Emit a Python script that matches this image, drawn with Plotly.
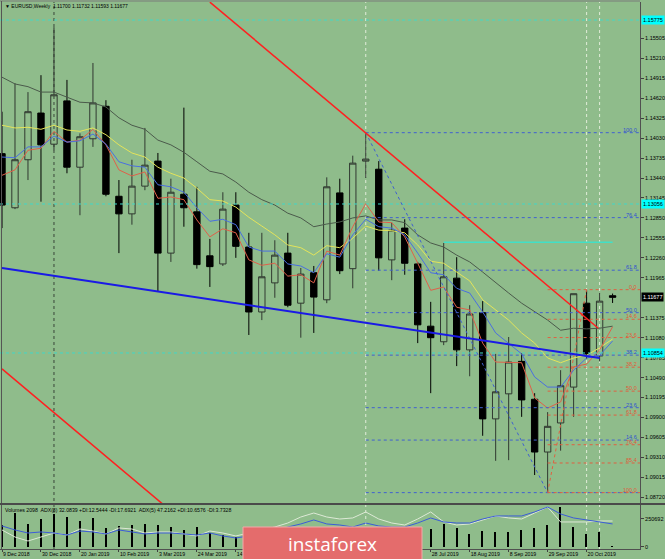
import pandas as pd
import plotly.graph_objects as go

# ---------------- data ----------------
first_week = "2018-12-09"
dates = pd.date_range(first_week, periods=48, freq="7D")

open_ = [1.1380, 1.1300, 1.1371, 1.1440, 1.1394, 1.1458, 1.1360, 1.1402, 1.1450, 1.1317,
         1.1291, 1.1332, 1.1369, 1.1233, 1.1320, 1.1294, 1.1229, 1.1217, 1.1304, 1.1242,
         1.1146, 1.1189, 1.1233, 1.1159, 1.1204, 1.1164, 1.1322, 1.1210, 1.1369, 1.1357,
         1.1223, 1.1270, 1.1217, 1.1125, 1.1102, 1.1196, 1.1090, 1.1145, 1.0988, 1.1025,
         1.1073, 1.1017, 1.0939, 1.0982, 1.1035, 1.1159, 1.1081, 1.11700]
high = [1.1442, 1.1484, 1.1471, 1.1496, 1.1567, 1.1489, 1.1410, 1.1514, 1.1459, 1.1341,
        1.1371, 1.1418, 1.1381, 1.1343, 1.1448, 1.1331, 1.1254, 1.1323, 1.1323, 1.1263,
        1.1263, 1.1252, 1.1263, 1.1211, 1.1214, 1.1345, 1.1343, 1.1377, 1.1411, 1.1369,
        1.1278, 1.1283, 1.1220, 1.1161, 1.1248, 1.1227, 1.1156, 1.1162, 1.1084, 1.1109,
        1.1085, 1.1026, 1.0998, 1.1060, 1.1173, 1.1179, 1.1174, 1.11732]
low = [1.1270, 1.1298, 1.1341, 1.1309, 1.1385, 1.1351, 1.1289, 1.1390, 1.1317, 1.1233,
       1.1275, 1.1326, 1.1176, 1.1220, 1.1272, 1.1210, 1.1183, 1.1214, 1.1226, 1.1112,
       1.1134, 1.1167, 1.1153, 1.1108, 1.1115, 1.1159, 1.1202, 1.1181, 1.1344, 1.1207,
       1.1193, 1.1201, 1.1100, 1.1026, 1.1097, 1.1066, 1.1051, 1.0963, 1.0926, 1.0927,
       1.0991, 1.0905, 1.0879, 1.0941, 1.0991, 1.1077, 1.1073, 1.11593]
close = [1.1304, 1.1371, 1.1442, 1.1393, 1.1467, 1.1360, 1.1405, 1.1455, 1.1320, 1.1291,
         1.1332, 1.1363, 1.1233, 1.1323, 1.1300, 1.1216, 1.1213, 1.1298, 1.1243, 1.1146,
         1.1198, 1.1230, 1.1156, 1.1202, 1.1168, 1.1331, 1.1207, 1.1366, 1.1372, 1.1226,
         1.1267, 1.1218, 1.1127, 1.1108, 1.1198, 1.1090, 1.1143, 1.0988, 1.1028, 1.1072,
         1.1016, 1.0939, 1.0977, 1.1037, 1.1173, 1.1084, 1.1162, 1.11677]

ma_grey = [1.1493, 1.1483, 1.1479, 1.1471, 1.1471, 1.1464, 1.1456, 1.1455, 1.1449, 1.1433,
           1.1422, 1.1416, 1.1400, 1.1393, 1.1382, 1.1368, 1.1354, 1.1350, 1.1338, 1.1323,
           1.1312, 1.1304, 1.1292, 1.1285, 1.1272, 1.1276, 1.1279, 1.1285, 1.1288, 1.1282,
           1.1282, 1.1278, 1.1260, 1.1248, 1.1242, 1.1230, 1.1220, 1.1205, 1.1189, 1.1174,
           1.1159, 1.1146, 1.1134, 1.1119, 1.1122, 1.1121, 1.1122, 1.1125]
ma_yellow = [1.1422, 1.1418, 1.1419, 1.1416, 1.1422, 1.1415, 1.1413, 1.1418, 1.1408, 1.1393,
             1.1381, 1.1375, 1.1360, 1.1351, 1.1344, 1.1329, 1.1312, 1.1310, 1.1301, 1.1286,
             1.1273, 1.1260, 1.1245, 1.1241, 1.1230, 1.1244, 1.1241, 1.1255, 1.1273, 1.1267,
             1.1266, 1.1263, 1.1245, 1.1221, 1.1218, 1.1205, 1.1192, 1.1164, 1.1149, 1.1134,
             1.1115, 1.1100, 1.1078, 1.1071, 1.1078, 1.1082, 1.1093, 1.1106]
ma_red = [1.1348, 1.1356, 1.1385, 1.1388, 1.1413, 1.1397, 1.1400, 1.1416, 1.1393, 1.1356,
          1.1347, 1.1353, 1.1314, 1.1316, 1.1312, 1.1282, 1.1257, 1.1269, 1.1263, 1.1223,
          1.1215, 1.1218, 1.1199, 1.1201, 1.1189, 1.1236, 1.1230, 1.1272, 1.1306, 1.1279,
          1.1278, 1.1257, 1.1218, 1.1178, 1.1183, 1.1153, 1.1149, 1.1100, 1.1072, 1.1072,
          1.1071, 1.1019, 1.1004, 1.1013, 1.1065, 1.1069, 1.1090, 1.1124]
ma_blue = [1.1375, 1.1374, 1.1390, 1.1390, 1.1406, 1.1397, 1.1399, 1.1409, 1.1394, 1.1368,
           1.1362, 1.1360, 1.1334, 1.1331, 1.1323, 1.1300, 1.1280, 1.1283, 1.1275, 1.1242,
           1.1236, 1.1236, 1.1217, 1.1214, 1.1204, 1.1232, 1.1227, 1.1260, 1.1283, 1.1272,
           1.1270, 1.1260, 1.1233, 1.1204, 1.1201, 1.1181, 1.1174, 1.1146, 1.1115, 1.1100,
           1.1084, 1.1050, 1.1035, 1.1035, 1.1060, 1.1078, 1.1082, 1.1103]

volume = [197000, 304000, 206000, 251000, 295000, 269000, 233000, 260000, 170000, 188000,
          197000, 206000, 197000, 179000, 152000, 179000, 125000, 107000, 90000, 150000,
          135000, 120000, 160000, 140000, 130000, 175000, 150000, 165000, 170000, 145000,
          130000, 140000, 150000, 161000, 206000, 170000, 116000, 143000, 134000, 134000,
          152000, 170000, 197000, 358000, 179000, 116000, 134000, 2098]
adx_blue = [26.3, 21.3, 17.5, 18.8, 17.5, 15.0, 20.0, 18.8, 16.3, 21.3,
            18.8, 16.3, 17.5, 17.5, 16.3, 15.0, 17.5, 13.8, 11.3, 13.8,
            16.3, 20.0, 25.0, 28.8, 33.8, 28.8, 27.5, 25.0, 30.0, 26.3,
            25.0, 25.0, 30.0, 36.3, 31.3, 30.0, 30.0, 35.0, 38.8, 38.8,
            38.8, 43.8, 50.0, 41.3, 36.3, 33.8, 31.3, 28.8]
adx_light = [21.3, 12.5, 7.5, 12.5, 17.5, 15.0, 22.5, 20.0, 16.3, 23.8,
             22.5, 17.5, 18.8, 18.8, 16.3, 13.8, 20.0, 17.5, 13.8, 17.5,
             21.3, 25.0, 30.0, 37.5, 42.5, 37.5, 35.0, 36.3, 43.8, 35.0,
             30.0, 27.5, 35.0, 43.8, 31.3, 27.5, 28.8, 33.8, 38.8, 36.3,
             35.0, 42.5, 50.0, 31.3, 31.3, 31.3, 32.5, 32.5]

price_ticks = [1.08720, 1.09015, 1.09310, 1.09605, 1.09900, 1.10195, 1.10490, 1.10785,
               1.11080, 1.11375, 1.11965, 1.12260, 1.12555, 1.12850, 1.13145,
               1.13440, 1.13735, 1.14030, 1.14325, 1.14620, 1.14915, 1.15210, 1.15505]
# week indices of the visible date labels (those under the watermark are not shown)
date_tick_idx = [0, 3, 6, 9, 12, 15, 18, 33, 36, 39, 42, 45]

cyan_levels = [1.15775, 1.13056, 1.10854]
cyan_segment = dict(i0=34, i1=47, price=1.1249)
current_price = 1.11677

# trend lines: (week index, price) anchors
red_upper = [(16.0, 1.1604), (45.9, 1.1122)]
red_lower = [(0.0, 1.1062), (12.5, 1.0860)]
blue_trend = [(0.0, 1.1211), (46.0, 1.1078)]

fib_blue = dict(i_a=28, p_a=1.1411, i_b=42, p_b=1.0879)   # 100 at a, 0 at b
fib_blue_levels = [0.0, 14.6, 23.6, 38.2, 50.0, 61.8, 76.4, 100.0]
fib_red = dict(i_a=42, p_a=1.0879, i_b=45, p_b=1.1179)    # 100 at a, 0 at b
fib_red_levels = [0.0, 14.6, 23.6, 38.2, 50.0, 61.8, 76.4, 85.4, 100.0]

vlines_dark = [4]
vlines_light = [28, 45, 46]

title_text = "EURUSD,Weekly  1.11700 1.11732 1.11593 1.11677"
sub_text = "Volumes 2098  ADX(8) 32.0839 +DI:12.5444 -DI:17.6921  ADX(5) 47.2162 +DI:10.6576 -DI:3.7328"

# ---------------- figure ----------------
W, H = 665, 559
ML, MR, MT, MB = 0, 25, 0, 10
PW, PH = W - ML - MR, H - MT - MB
BG = "#8fbc8b"
FONT = "Liberation Sans, Arial, sans-serif"


def wk(i):
    return dates[0] + pd.Timedelta(days=7 * i)


def py(px):  # pixel y -> paper y
    return 1 - (px - MT) / PH


def pxx(px):
    return (px - ML) / PW


x_lo = wk(-0.154)
x_hi = wk(49.11)

fig = go.Figure()

# moving averages (behind candles)
for arr, col in [(ma_grey, "#4b5a4b"), (ma_yellow, "#e4e45a"), (ma_red, "#e0604a"), (ma_blue, "#4a6fe0")]:
    fig.add_trace(go.Scatter(x=dates, y=arr, mode="lines", line=dict(color=col, width=1),
                             hoverinfo="skip", showlegend=False))

# horizontal cyan lines
for lv in cyan_levels:
    fig.add_trace(go.Scatter(x=[x_lo, x_hi], y=[lv, lv], mode="lines",
                             line=dict(color="#40d8c8", width=1, dash="dot"),
                             hoverinfo="skip", showlegend=False))
fig.add_trace(go.Scatter(x=[wk(cyan_segment["i0"]), wk(cyan_segment["i1"])],
                         y=[cyan_segment["price"]] * 2, mode="lines",
                         line=dict(color="#40e0c8", width=1.5), hoverinfo="skip", showlegend=False))

# candles
fig.add_trace(go.Candlestick(
    x=dates, open=open_, high=high, low=low, close=close,
    increasing=dict(line=dict(color="#303830", width=1), fillcolor="rgba(0,0,0,0)"),
    decreasing=dict(line=dict(color="#000000", width=1), fillcolor="#000000"),
    whiskerwidth=0, hoverinfo="skip", showlegend=False))

# fibonacci levels
def fib(spec, levels, color, txtcol, hide_labels=()):
    pa, pb = spec["p_a"], spec["p_b"]
    for lv in levels:
        p = pb + (pa - pb) * lv / 100.0
        fig.add_trace(go.Scatter(x=[wk(spec["i_a"]), x_hi], y=[p, p], mode="lines",
                                 line=dict(color=color, width=1, dash="dot"),
                                 hoverinfo="skip", showlegend=False))
        if lv in hide_labels:
            continue
        fig.add_annotation(x=1, xref="paper", y=p, yref="y", text=f"{lv:.1f}",
                           xanchor="right", yanchor="bottom", showarrow=False, xshift=-1, yshift=-2,
                           font=dict(size=5.5, color=txtcol, family=FONT))
    fig.add_trace(go.Scatter(x=[wk(spec["i_a"]), wk(spec["i_b"])], y=[pa, pb], mode="lines",
                             line=dict(color=color, width=1, dash="dot"),
                             hoverinfo="skip", showlegend=False))

# the blue 0.0 label sits under the red 100.0 label in the original
fib(fib_blue, fib_blue_levels, "#4060d0", "#3050d0", hide_labels=(0.0,))
fib(fib_red, fib_red_levels, "#e06040", "#e05a3a")

# trend lines
for pts, col, wd in [(red_upper, "#ff2020", 1.5), (red_lower, "#ff2020", 1.5), (blue_trend, "#1a1ae6", 2)]:
    fig.add_trace(go.Scatter(x=[wk(p[0]) for p in pts], y=[p[1] for p in pts], mode="lines",
                             line=dict(color=col, width=wd), hoverinfo="skip", showlegend=False))

# sub window: volumes and ADX
fig.add_trace(go.Bar(x=dates, y=volume, width=86400000 * 0.75, marker=dict(color="#000000", line=dict(width=0)),
                     xaxis="x2", yaxis="y2", hoverinfo="skip", showlegend=False))
fig.add_trace(go.Scatter(x=dates, y=adx_light, mode="lines", line=dict(color="#dde9d6", width=1),
                         xaxis="x2", yaxis="y3", hoverinfo="skip", showlegend=False))
fig.add_trace(go.Scatter(x=dates, y=adx_blue, mode="lines", line=dict(color="#3c5cd8", width=1),
                         xaxis="x2", yaxis="y3", hoverinfo="skip", showlegend=False))

main_top, main_bot, sub_top, sub_bot = 2, 503, 505, 549
y_lo = 1.16071 - main_bot * 0.0001478
y_hi = 1.16071 - main_top * 0.0001478

fig.update_layout(
    width=W, height=H, margin=dict(l=ML, r=MR, t=MT, b=MB, autoexpand=False),
    paper_bgcolor=BG, plot_bgcolor=BG, showlegend=False,
    font=dict(family=FONT, size=5.5, color="#000000"),
    xaxis=dict(domain=[0, 1], anchor="y", range=[x_lo, x_hi], showgrid=False, zeroline=False,
               showticklabels=False, rangeslider=dict(visible=False), fixedrange=True),
    yaxis=dict(domain=[py(main_bot), py(main_top)], range=[y_lo, y_hi], side="right",
               tickvals=price_ticks, ticktext=[f"{v:.5f}" for v in price_ticks],
               ticks="outside", ticklen=3, tickcolor="#404040", showgrid=False, zeroline=False,
               tickfont=dict(size=5.5, color="#000000", family=FONT),
               showline=True, linecolor="#505050", linewidth=1),
    xaxis2=dict(domain=[0, 1], anchor="y2", matches="x", showgrid=False, zeroline=False,
                tickvals=[dates[i] for i in date_tick_idx],
                ticktext=[f"{dates[i].day} {dates[i].strftime('%b %Y')}" for i in date_tick_idx],
                ticklabelposition="outside right", ticks="outside", ticklen=2, tickcolor="#404040",
                tickfont=dict(size=5.2, color="#000000", family=FONT), showline=True,
                linecolor="#505050", linewidth=1),
    yaxis2=dict(domain=[py(sub_bot), py(sub_top)], range=[-18000, 376000], side="right",
                tickvals=[0, 250692], ticktext=["0", "250692"], ticks="outside", ticklen=3,
                tickcolor="#404040", showgrid=False, zeroline=False,
                tickfont=dict(size=5.5, color="#000000", family=FONT),
                showline=True, linecolor="#505050", linewidth=1),
    yaxis3=dict(domain=[py(sub_bot), py(sub_top)], range=[-2.5, 52.5], overlaying="y2",
                visible=False),
    bargap=0,
)

# frame lines
frame = "#555555"
fig.add_shape(type="line", xref="paper", yref="paper", x0=0, x1=1, y0=py(1), y1=py(1),
              line=dict(color="#7a7a7a", width=1))
fig.add_shape(type="line", xref="paper", yref="paper", x0=pxx(1.5), x1=pxx(1.5), y0=0, y1=py(1),
              line=dict(color=frame, width=1))
fig.add_shape(type="line", xref="paper", yref="paper", x0=0, x1=1.04, y0=py(504), y1=py(504),
              line=dict(color="#4a4a4a", width=2))

# vertical user lines (behind the candles)
for i in vlines_dark:
    fig.add_shape(type="line", xref="x", yref="paper", x0=wk(i), x1=wk(i), y0=0, y1=py(2),
                  line=dict(color="#3a463a", width=1, dash="dot"), layer="below")
for i in vlines_light:
    fig.add_shape(type="line", xref="x", yref="paper", x0=wk(i), x1=wk(i), y0=0, y1=py(2),
                  line=dict(color="#e0ecd8", width=1, dash="dot"), layer="below")

# right price labels
for lv in cyan_levels:
    fig.add_annotation(x=1, xref="paper", y=lv, yref="y", text=f"{lv:.5f}", xanchor="left",
                       showarrow=False, xshift=1, bgcolor="#00ffff", borderpad=1,
                       font=dict(size=5.5, color="#000000", family=FONT))
fig.add_annotation(x=1, xref="paper", y=current_price, yref="y", text=f"{current_price:.5f}",
                   xanchor="left", showarrow=False, xshift=1, bgcolor="#000000", borderpad=1,
                   font=dict(size=5.5, color="#ffffff", family=FONT))

# texts
fig.add_annotation(x=pxx(3), xref="paper", y=py(6), yref="paper", text="▼ " + title_text,
                   xanchor="left", yanchor="middle", showarrow=False,
                   font=dict(size=5.0, color="#000000", family=FONT))
fig.add_annotation(x=pxx(3), xref="paper", y=py(510), yref="paper", text=sub_text,
                   xanchor="left", yanchor="middle", showarrow=False,
                   font=dict(size=5.2, color="#000000", family=FONT))

# watermark
fig.add_shape(type="rect", xref="paper", yref="paper", x0=pxx(243), x1=pxx(422), y0=py(561), y1=py(527),
              fillcolor="#e46c6c", line=dict(color="#f2a8a8", width=1), layer="above")
fig.add_annotation(x=pxx(332), xref="paper", y=py(544), yref="paper", text="instaforex",
                   showarrow=False, xanchor="center", yanchor="middle",
                   font=dict(size=19, color="#ffffff", family="Open Sans, sans-serif"))

fig.write_html("out.html", config={"displayModeBar": False},
               post_script="document.body.style.margin='0';document.body.style.padding='0';")
